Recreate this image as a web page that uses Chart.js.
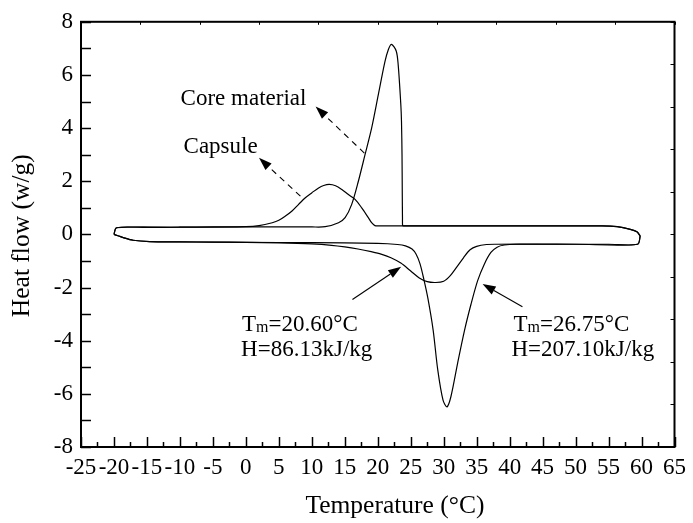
<!DOCTYPE html>
<html><head><meta charset="utf-8">
<script src="https://cdn.jsdelivr.net/npm/chart.js@4/dist/chart.umd.min.js"></script>
<style>html,body{margin:0;padding:0;background:#fff}</style>
</head><body>
<canvas id="c" width="693" height="523" style="width:693px;height:523px;display:block"></canvas>
<script>
// ---- tick values ----
const xTickValues = [-25,-20,-15,-10,-5,0,5,10,15,20,25,30,35,40,45,50,55,60,65];
const yTickValues = [-8,-6,-4,-2,0,2,4,6,8];
const topTickValues = [-25,-16,-7,2,11,20,29,38,47,56,65];
const rightTickValues = [-8,-6.4,-4.8,-3.2,-1.6,0,1.6,3.2,4.8,6.4,8];
const xTitle = 'Temperature (\u00B0C)';
const yTitle = 'Heat flow (w/g)';

// ---- Capsule: heating (endothermic) branch, -20 -> 60 ----
const capsuleHeatT = [-20,-19.4,-18.6,-17.1,-14.6,-10,-5,0,5,10,13,15,17,19,20.5,22,23.5,25,26.3,27.5,28.8,30,31,32,33,34,35,36.5,38,45,55,59.4,59.8];
const capsuleHeatQ = [0,-0.05,-0.12,-0.22,-0.27,-0.28,-0.29,-0.30,-0.32,-0.36,-0.41,-0.47,-0.55,-0.65,-0.74,-0.88,-1.08,-1.38,-1.64,-1.78,-1.81,-1.76,-1.55,-1.22,-0.88,-0.58,-0.45,-0.38,-0.37,-0.37,-0.37,-0.37,-0.06];
// ---- Capsule: cooling (exothermic) branch, 60 -> -20 ----
const capsuleCoolT = [59.8,59.3,58.3,56.3,54,40,25,20.2,19.57,19.07,18.57,17.57,16.56,15.55,14.55,13.6,12.64,11.8,11.03,10.02,9.02,8.0,7.0,6.0,5.0,4.0,2.0,0,-5,-10,-15,-19.6,-20];
const capsuleCoolQ = [-0.06,0.1,0.19,0.29,0.32,0.32,0.32,0.32,0.33,0.44,0.63,1.0,1.32,1.5,1.69,1.83,1.88,1.84,1.75,1.57,1.38,1.13,0.88,0.69,0.53,0.44,0.33,0.29,0.28,0.27,0.26,0.25,0];

// ---- Core material: heating branch ----
const coreHeatT = [-20,-19.4,-18.6,-17.1,-14.6,-10,0,10,20,23,24.2,25.2,25.8,26.4,27.0,27.6,28.4,29.1,29.9,30.5,31.1,32.1,33.15,34.15,35.15,36.16,37.16,38.1,39.2,41,50,59.4,59.8];
const coreHeatQ = [0,-0.05,-0.12,-0.22,-0.27,-0.28,-0.30,-0.31,-0.34,-0.38,-0.43,-0.55,-0.74,-1.1,-1.7,-2.4,-3.6,-5.1,-6.24,-6.49,-6.1,-4.86,-3.62,-2.62,-1.74,-1.12,-0.68,-0.48,-0.40,-0.37,-0.37,-0.37,-0.06];
// ---- Core material: cooling branch ----
const coreCoolT = [59.8,59.3,58.3,56.3,54,40,25,24.0,23.78,23.75,23.72,23.68,23.6,23.5,23.1,22.8,22.08,21.6,21.09,20.08,19.07,18.07,17.06,16.05,15.05,14.05,12.04,10,0,-10,-19.6,-20];
const coreCoolQ = [-0.06,0.1,0.19,0.29,0.32,0.32,0.32,0.32,0.33,0.6,1.5,3.0,4.25,4.88,6.38,6.9,7.15,6.95,6.5,5.25,4.0,3.0,2.0,1.13,0.63,0.44,0.29,0.28,0.28,0.27,0.25,0];

const pts = (T, Q) => T.map((t, i) => ({x: t, y: Q[i]}));
const FONT = '"Liberation Serif", "Times New Roman", serif';

const lineStyle = {showLine: true, borderColor: '#000', borderWidth: 1.2, pointRadius: 0, tension: 0.3, fill: false};

const annotations = {
  id: 'annotations',
  afterDatasetsDraw(chart) {
    const {ctx, scales: {x, y}} = chart;
    const px = v => x.getPixelForValue(v), py = v => y.getPixelForValue(v);
    function arrow(x1, y1, x2, y2, dashed) {
      const X1 = px(x1), Y1 = py(y1), X2 = px(x2), Y2 = py(y2);
      const ang = Math.atan2(Y2 - Y1, X2 - X1);
      const hl = 13, hw = 4.5;
      const bx = X2 - hl * Math.cos(ang), by = Y2 - hl * Math.sin(ang);
      ctx.save();
      ctx.strokeStyle = '#000'; ctx.fillStyle = '#000'; ctx.lineWidth = 1.1;
      if (dashed) ctx.setLineDash([6, 5]);
      ctx.beginPath(); ctx.moveTo(X1, Y1); ctx.lineTo(bx, by); ctx.stroke();
      ctx.setLineDash([]);
      ctx.beginPath();
      ctx.moveTo(X2, Y2);
      ctx.lineTo(bx + hw * Math.sin(ang), by - hw * Math.cos(ang));
      ctx.lineTo(bx - hw * Math.sin(ang), by + hw * Math.cos(ang));
      ctx.closePath(); ctx.fill();
      ctx.restore();
    }
    function text(str, xv, yv) {
      ctx.save(); ctx.fillStyle = '#000'; ctx.font = '23px ' + FONT;
      ctx.textAlign = 'left'; ctx.textBaseline = 'alphabetic';
      ctx.fillText(str, px(xv), py(yv)); ctx.restore();
    }
    function tmText(rest, xv, yv) {
      ctx.save(); ctx.fillStyle = '#000'; ctx.textAlign = 'left'; ctx.textBaseline = 'alphabetic';
      let X = px(xv); const Y = py(yv);
      ctx.font = '23px ' + FONT; ctx.fillText('T', X, Y); X += ctx.measureText('T').width;
      ctx.font = '16px ' + FONT; ctx.fillText('m', X, Y + 1); X += ctx.measureText('m').width;
      ctx.font = '23px ' + FONT; ctx.fillText(rest, X, Y);
      ctx.restore();
    }
    text('Core material', -9.9, 4.87);
    text('Capsule', -9.45, 3.07);
    arrow(17.97, 3.06, 10.58, 4.81, true);
    arrow(8.27, 1.44, 1.99, 2.88, true);
    tmText('=20.60\u00B0C', -0.58, -3.62);
    text('H=86.13kJ/kg', -0.72, -4.57);
    arrow(16.16, -2.45, 23.55, -1.22, false);
    tmText('=26.75\u00B0C', 40.58, -3.62);
    text('H=207.10kJ/kg', 40.28, -4.57);
    arrow(41.94, -2.72, 35.9, -1.87, false);
  }
};

const frame = {
  id: 'frame',
  afterDraw(chart) {
    const {ctx, chartArea: {left, right, top, bottom}, scales: {x, y}} = chart;
    ctx.save();
    ctx.strokeStyle = '#000';
    ctx.lineWidth = 1.5;
    xTickValues.forEach((v, i) => {
      const X = Math.round(x.getPixelForValue(v)) + 0.5;
      ctx.beginPath(); ctx.moveTo(X, bottom); ctx.lineTo(X, bottom - 10); ctx.stroke();
      if (i < xTickValues.length - 1) {
        const M = Math.round(x.getPixelForValue((v + xTickValues[i + 1]) / 2)) + 0.5;
        ctx.beginPath(); ctx.moveTo(M, bottom); ctx.lineTo(M, bottom - 5); ctx.stroke();
      }
    });
    for (let v = yTickValues[0]; v <= yTickValues[yTickValues.length - 1]; v += 1) {
      const Y = Math.round(y.getPixelForValue(v)) + 0.5;
      ctx.beginPath(); ctx.moveTo(left, Y); ctx.lineTo(left + 10, Y); ctx.stroke();
    }
    ctx.lineWidth = 1;
    topTickValues.forEach(v => {
      const X = Math.round(x.getPixelForValue(v)) + 0.5;
      ctx.beginPath(); ctx.moveTo(X, top); ctx.lineTo(X, top + 3); ctx.stroke();
    });
    rightTickValues.forEach(v => {
      const Y = Math.round(y.getPixelForValue(v)) + 0.5;
      ctx.beginPath(); ctx.moveTo(right, Y); ctx.lineTo(right - 4, Y); ctx.stroke();
    });
    ctx.lineWidth = 2;
    ctx.strokeRect(left, top, right - left, bottom - top);
    // axis titles
    ctx.fillStyle = '#000';
    ctx.font = '25.5px ' + FONT;
    ctx.textAlign = 'center'; ctx.textBaseline = 'alphabetic';
    ctx.fillText(xTitle, x.getPixelForValue(22.6), 513);
    ctx.translate(29, y.getPixelForValue(-0.05));
    ctx.rotate(-Math.PI / 2);
    ctx.fillText(yTitle, 0, 0);
    ctx.restore();
  }
};

new Chart(document.getElementById('c'), {
  type: 'scatter',
  data: {
    datasets: [
      {label: 'Capsule heating', data: pts(capsuleHeatT, capsuleHeatQ), ...lineStyle},
      {label: 'Capsule cooling', data: pts(capsuleCoolT, capsuleCoolQ), ...lineStyle},
      {label: 'Core heating', data: pts(coreHeatT, coreHeatQ), ...lineStyle},
      {label: 'Core cooling', data: pts(coreCoolT, coreCoolQ), ...lineStyle}
    ]
  },
  options: {
    responsive: false,
    animation: false,
    layout: {padding: {left: 0, right: 15, top: 20, bottom: 0}},
    plugins: {legend: {display: false}, tooltip: {enabled: false}},
    scales: {
      x: {
        type: 'linear', min: -25, max: 65,
        afterBuildTicks: s => { s.ticks = xTickValues.map(v => ({value: v})); },
        afterFit: s => { s.height = 76; },
        grid: {display: false, drawTicks: false},
        border: {display: false},
        ticks: {color: '#000', font: {family: FONT, size: 23}, padding: 7, maxRotation: 0, autoSkip: false},
        title: {display: false}
      },
      y: {
        type: 'linear', min: -8, max: 8,
        afterBuildTicks: s => { s.ticks = yTickValues.map(v => ({value: v})); },
        afterFit: s => { s.width = 81; },
        grid: {display: false, drawTicks: false},
        border: {display: false},
        ticks: {color: '#000', font: {family: FONT, size: 23}, padding: 8},
        title: {display: false}
      }
    }
  },
  plugins: [annotations, frame]
});
</script>
</body></html>
